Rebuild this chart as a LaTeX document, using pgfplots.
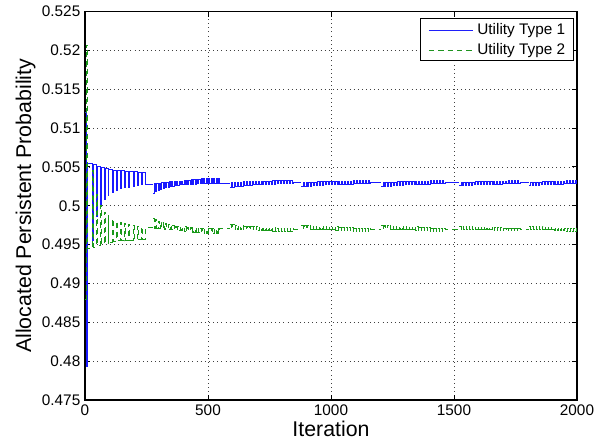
\documentclass[border=0pt]{standalone}
\usepackage{pgfplots}
\pgfplotsset{compat=1.18}
\usepackage{pgfplotstable}
\usepackage{fontspec}
\setmainfont{Liberation Sans}
\definecolor{mblue}{rgb}{0.1,0.1,1}
\definecolor{mgreen}{rgb}{0.1,0.6,0.1}
\definecolor{lblue}{rgb}{0.12,0.12,0.98}
\definecolor{lgreen}{rgb}{0.12,0.58,0.12}
% segment A (start + large teeth)
\pgfplotstableread{
x b g
0 0.5120 0.4880
4 0.4793 0.5207
9 0.5055 0.4945
29 0.4955 0.5045
34 0.5053 0.4947
45 0.4986 0.5014
50 0.5051 0.4949
61 0.5000 0.5000
66 0.5049 0.4951
77 0.5008 0.4992
81 0.5048 0.4952
93 0.5013 0.4987
97 0.5047 0.4953
110 0.5017 0.4983
114 0.5046 0.4954
127 0.5020 0.4980
131 0.5045 0.4955
144 0.5022 0.4978
148 0.5045 0.4955
161 0.5023 0.4977
165 0.5044 0.4956
178 0.5024 0.4976
182 0.5044 0.4956
195 0.5025 0.4975
199 0.5044 0.4956
211 0.5026 0.4974
215 0.5043 0.4957
229 0.5027 0.4973
233 0.5043 0.4957
247 0.5028 0.4972
277 0.5028 0.4972
}\tA
% segment B
\pgfplotstableread{
x b g
277 0.5016 0.4984
282 0.5029 0.4971
287 0.5018 0.4982
292 0.5029 0.4971
297 0.5020 0.4980
302 0.5029 0.4971
307 0.5021 0.4979
312 0.5030 0.4970
317 0.5022 0.4978
322 0.5030 0.4970
327 0.5023 0.4977
332 0.5030 0.4970
337 0.5024 0.4976
342 0.5031 0.4969
347 0.5025 0.4975
352 0.5031 0.4969
357 0.5025 0.4975
362 0.5031 0.4969
367 0.5026 0.4974
372 0.5032 0.4968
377 0.5026 0.4974
382 0.5032 0.4968
387 0.5027 0.4973
392 0.5032 0.4968
397 0.5027 0.4973
402 0.5033 0.4967
407 0.5027 0.4973
412 0.5033 0.4967
417 0.5028 0.4972
422 0.5033 0.4967
427 0.5028 0.4972
432 0.5034 0.4966
437 0.5028 0.4972
442 0.5034 0.4966
447 0.5028 0.4972
452 0.5034 0.4966
457 0.5029 0.4971
462 0.5034 0.4966
467 0.5029 0.4971
472 0.5035 0.4965
477 0.5029 0.4971
482 0.5035 0.4965
487 0.5029 0.4971
492 0.5035 0.4965
497 0.5029 0.4971
502 0.5035 0.4965
507 0.5029 0.4971
512 0.5035 0.4965
517 0.5029 0.4971
522 0.5035 0.4965
527 0.5029 0.4971
532 0.5035 0.4965
537 0.5029 0.4971
542 0.5035 0.4965
547 0.5029 0.4971
589 0.5029 0.4971
}\tB
% segment C
\pgfplotstableread{
x b g
589 0.5024 0.4976
595 0.5030 0.4970
601 0.5024 0.4976
607 0.5030 0.4970
613 0.5025 0.4975
619 0.5030 0.4970
625 0.5025 0.4975
631 0.5030 0.4970
637 0.5025 0.4975
643 0.5031 0.4969
649 0.5026 0.4974
655 0.5031 0.4969
661 0.5026 0.4974
667 0.5031 0.4969
673 0.5026 0.4974
679 0.5031 0.4969
685 0.5027 0.4973
691 0.5031 0.4969
697 0.5027 0.4973
703 0.5032 0.4968
709 0.5027 0.4973
715 0.5032 0.4968
721 0.5027 0.4973
727 0.5032 0.4968
733 0.5028 0.4972
739 0.5032 0.4968
745 0.5028 0.4972
751 0.5032 0.4968
757 0.5028 0.4972
763 0.5033 0.4967
769 0.5028 0.4972
775 0.5033 0.4967
781 0.5029 0.4971
787 0.5033 0.4967
793 0.5029 0.4971
799 0.5033 0.4967
805 0.5029 0.4971
811 0.5033 0.4967
817 0.5029 0.4971
823 0.5033 0.4967
829 0.5029 0.4971
835 0.5033 0.4967
841 0.5029 0.4971
847 0.5030 0.4970
880 0.5030 0.4970
}\tC
% segment D
\pgfplotstableread{
x b g
880 0.5025 0.4975
886 0.5030 0.4970
892 0.5025 0.4975
898 0.5030 0.4970
904 0.5025 0.4975
910 0.5030 0.4970
916 0.5025 0.4975
922 0.5030 0.4970
928 0.5026 0.4974
934 0.5030 0.4970
940 0.5026 0.4974
946 0.5031 0.4969
952 0.5026 0.4974
958 0.5031 0.4969
964 0.5026 0.4974
970 0.5031 0.4969
976 0.5027 0.4973
982 0.5031 0.4969
988 0.5027 0.4973
994 0.5031 0.4969
1000 0.5027 0.4973
1006 0.5031 0.4969
1012 0.5027 0.4973
1018 0.5032 0.4968
1024 0.5027 0.4973
1030 0.5032 0.4968
1036 0.5028 0.4972
1042 0.5032 0.4968
1048 0.5028 0.4972
1054 0.5032 0.4968
1060 0.5028 0.4972
1066 0.5032 0.4968
1072 0.5028 0.4972
1078 0.5032 0.4968
1084 0.5028 0.4972
1090 0.5033 0.4967
1096 0.5029 0.4971
1102 0.5033 0.4967
1108 0.5029 0.4971
1114 0.5033 0.4967
1120 0.5029 0.4971
1126 0.5033 0.4967
1132 0.5029 0.4971
1138 0.5033 0.4967
1144 0.5029 0.4971
1150 0.5033 0.4967
1156 0.5029 0.4971
1162 0.5030 0.4970
1205 0.5030 0.4970
}\tD
% segment E
\pgfplotstableread{
x b g
1205 0.5025 0.4975
1211 0.5030 0.4970
1217 0.5025 0.4975
1223 0.5030 0.4970
1229 0.5025 0.4975
1235 0.5030 0.4970
1241 0.5025 0.4975
1247 0.5030 0.4970
1253 0.5026 0.4974
1259 0.5030 0.4970
1265 0.5026 0.4974
1271 0.5031 0.4969
1277 0.5026 0.4974
1283 0.5031 0.4969
1289 0.5026 0.4974
1295 0.5031 0.4969
1301 0.5027 0.4973
1307 0.5031 0.4969
1313 0.5027 0.4973
1319 0.5031 0.4969
1325 0.5027 0.4973
1331 0.5031 0.4969
1337 0.5027 0.4973
1343 0.5032 0.4968
1349 0.5027 0.4973
1355 0.5032 0.4968
1361 0.5028 0.4972
1367 0.5032 0.4968
1373 0.5028 0.4972
1379 0.5032 0.4968
1385 0.5028 0.4972
1391 0.5032 0.4968
1397 0.5028 0.4972
1403 0.5033 0.4967
1409 0.5029 0.4971
1415 0.5033 0.4967
1421 0.5029 0.4971
1427 0.5033 0.4967
1433 0.5029 0.4971
1439 0.5033 0.4967
1445 0.5029 0.4971
1451 0.5033 0.4967
1457 0.5029 0.4971
1463 0.5030 0.4970
1522 0.5030 0.4970
}\tE
% segment F
\pgfplotstableread{
x b g
1522 0.5026 0.4974
1528 0.5030 0.4970
1534 0.5026 0.4974
1540 0.5030 0.4970
1546 0.5026 0.4974
1552 0.5030 0.4970
1558 0.5026 0.4974
1564 0.5030 0.4970
1570 0.5026 0.4974
1576 0.5030 0.4970
1582 0.5027 0.4973
1588 0.5031 0.4969
1594 0.5027 0.4973
1600 0.5031 0.4969
1606 0.5027 0.4973
1612 0.5031 0.4969
1618 0.5027 0.4973
1624 0.5031 0.4969
1630 0.5027 0.4973
1636 0.5031 0.4969
1642 0.5028 0.4972
1648 0.5031 0.4969
1654 0.5028 0.4972
1660 0.5032 0.4968
1666 0.5028 0.4972
1672 0.5032 0.4968
1678 0.5028 0.4972
1684 0.5032 0.4968
1690 0.5028 0.4972
1696 0.5032 0.4968
1702 0.5029 0.4971
1708 0.5032 0.4968
1714 0.5029 0.4971
1720 0.5033 0.4967
1726 0.5029 0.4971
1732 0.5033 0.4967
1738 0.5029 0.4971
1744 0.5033 0.4967
1750 0.5029 0.4971
1756 0.5033 0.4967
1762 0.5029 0.4971
1768 0.5030 0.4970
1806 0.5030 0.4970
}\tF
% segment G
\pgfplotstableread{
x b g
1806 0.5026 0.4974
1812 0.5030 0.4970
1818 0.5026 0.4974
1824 0.5030 0.4970
1830 0.5026 0.4974
1836 0.5030 0.4970
1842 0.5026 0.4974
1848 0.5030 0.4970
1854 0.5027 0.4973
1860 0.5031 0.4969
1866 0.5027 0.4973
1872 0.5031 0.4969
1878 0.5027 0.4973
1884 0.5031 0.4969
1890 0.5027 0.4973
1896 0.5031 0.4969
1902 0.5028 0.4972
1908 0.5032 0.4968
1914 0.5028 0.4972
1920 0.5032 0.4968
1926 0.5028 0.4972
1932 0.5032 0.4968
1938 0.5028 0.4972
1944 0.5032 0.4968
1950 0.5029 0.4971
1956 0.5033 0.4967
1962 0.5029 0.4971
1968 0.5033 0.4967
1974 0.5029 0.4971
1980 0.5033 0.4967
1986 0.5029 0.4971
1992 0.5033 0.4967
1998 0.5029 0.4971
2000 0.5029 0.4971
}\tG
\begin{document}
\begin{tikzpicture}
\begin{axis}[
  scale only axis,
  width=369pt, height=291.4pt,
  xmin=0, xmax=2000, ymin=0.475, ymax=0.525,
  xtick={0,500,1000,1500,2000},
  ytick={0.475,0.48,0.485,0.49,0.495,0.5,0.505,0.51,0.515,0.52,0.525},
  scaled y ticks=false, scaled x ticks=false,
  xticklabel style={/pgf/number format/.cd, 1000 sep={}},
  yticklabel style={/pgf/number format/.cd, fixed, precision=3},
  /pgf/number format/assume math mode=true,
  ticklabel style={font=\fontsize{11.5}{13}\selectfont},
  xlabel={Iteration}, ylabel={Allocated Persistent Probability},
  label style={font=\fontsize{16}{18}\selectfont},
  xlabel style={yshift=3pt},
  ylabel style={yshift=-2pt},
  grid=major,
  grid style={black!75, line width=0.4pt, dash pattern=on 0.5pt off 2.6pt},
  axis line style={black, line width=0.8pt},
  tick style={black, line width=0.6pt},
  tick align=inside, major tick length=4pt,
  bl/.style={const plot, color=mblue, line width=0.55pt},
  gr/.style={const plot, color=mgreen, line width=0.55pt, dash pattern=on 4pt off 3pt},
]
\addplot[bl, forget plot] table[x=x, y=b] \tA;
\addplot[gr, forget plot] table[x=x, y=g] \tA;
\addplot[bl, forget plot] table[x=x, y=b] \tB;
\addplot[gr, forget plot] table[x=x, y=g] \tB;
\addplot[bl, forget plot] table[x=x, y=b] \tC;
\addplot[gr, forget plot] table[x=x, y=g] \tC;
\addplot[bl, forget plot] table[x=x, y=b] \tD;
\addplot[gr, forget plot] table[x=x, y=g] \tD;
\addplot[bl, forget plot] table[x=x, y=b] \tE;
\addplot[gr, forget plot] table[x=x, y=g] \tE;
\addplot[bl, forget plot] table[x=x, y=b] \tF;
\addplot[gr, forget plot] table[x=x, y=g] \tF;
\addplot[bl, forget plot] table[x=x, y=b] \tG;
\addplot[gr, forget plot] table[x=x, y=g] \tG;
% legend box
\draw[black, line width=0.6pt, fill=white] (rel axis cs:0.682,0.874) rectangle (rel axis cs:0.992,0.981);
\draw[lblue, line width=0.6pt] (rel axis cs:0.699,0.951) -- (rel axis cs:0.789,0.951);
\draw[lgreen, line width=0.6pt, dash pattern=on 4pt off 3pt] (rel axis cs:0.699,0.900) -- (rel axis cs:0.789,0.900);
\node[anchor=west, inner sep=0pt, font=\fontsize{11.5}{13}\selectfont] at (rel axis cs:0.797,0.951) {Utility Type 1};
\node[anchor=west, inner sep=0pt, font=\fontsize{11.5}{13}\selectfont] at (rel axis cs:0.797,0.900) {Utility Type 2};
\end{axis}
\pgfresetboundingbox
\path[use as bounding box] (-63.75pt,-35.25pt) rectangle (392.25pt,300pt);
\end{tikzpicture}
\end{document}
